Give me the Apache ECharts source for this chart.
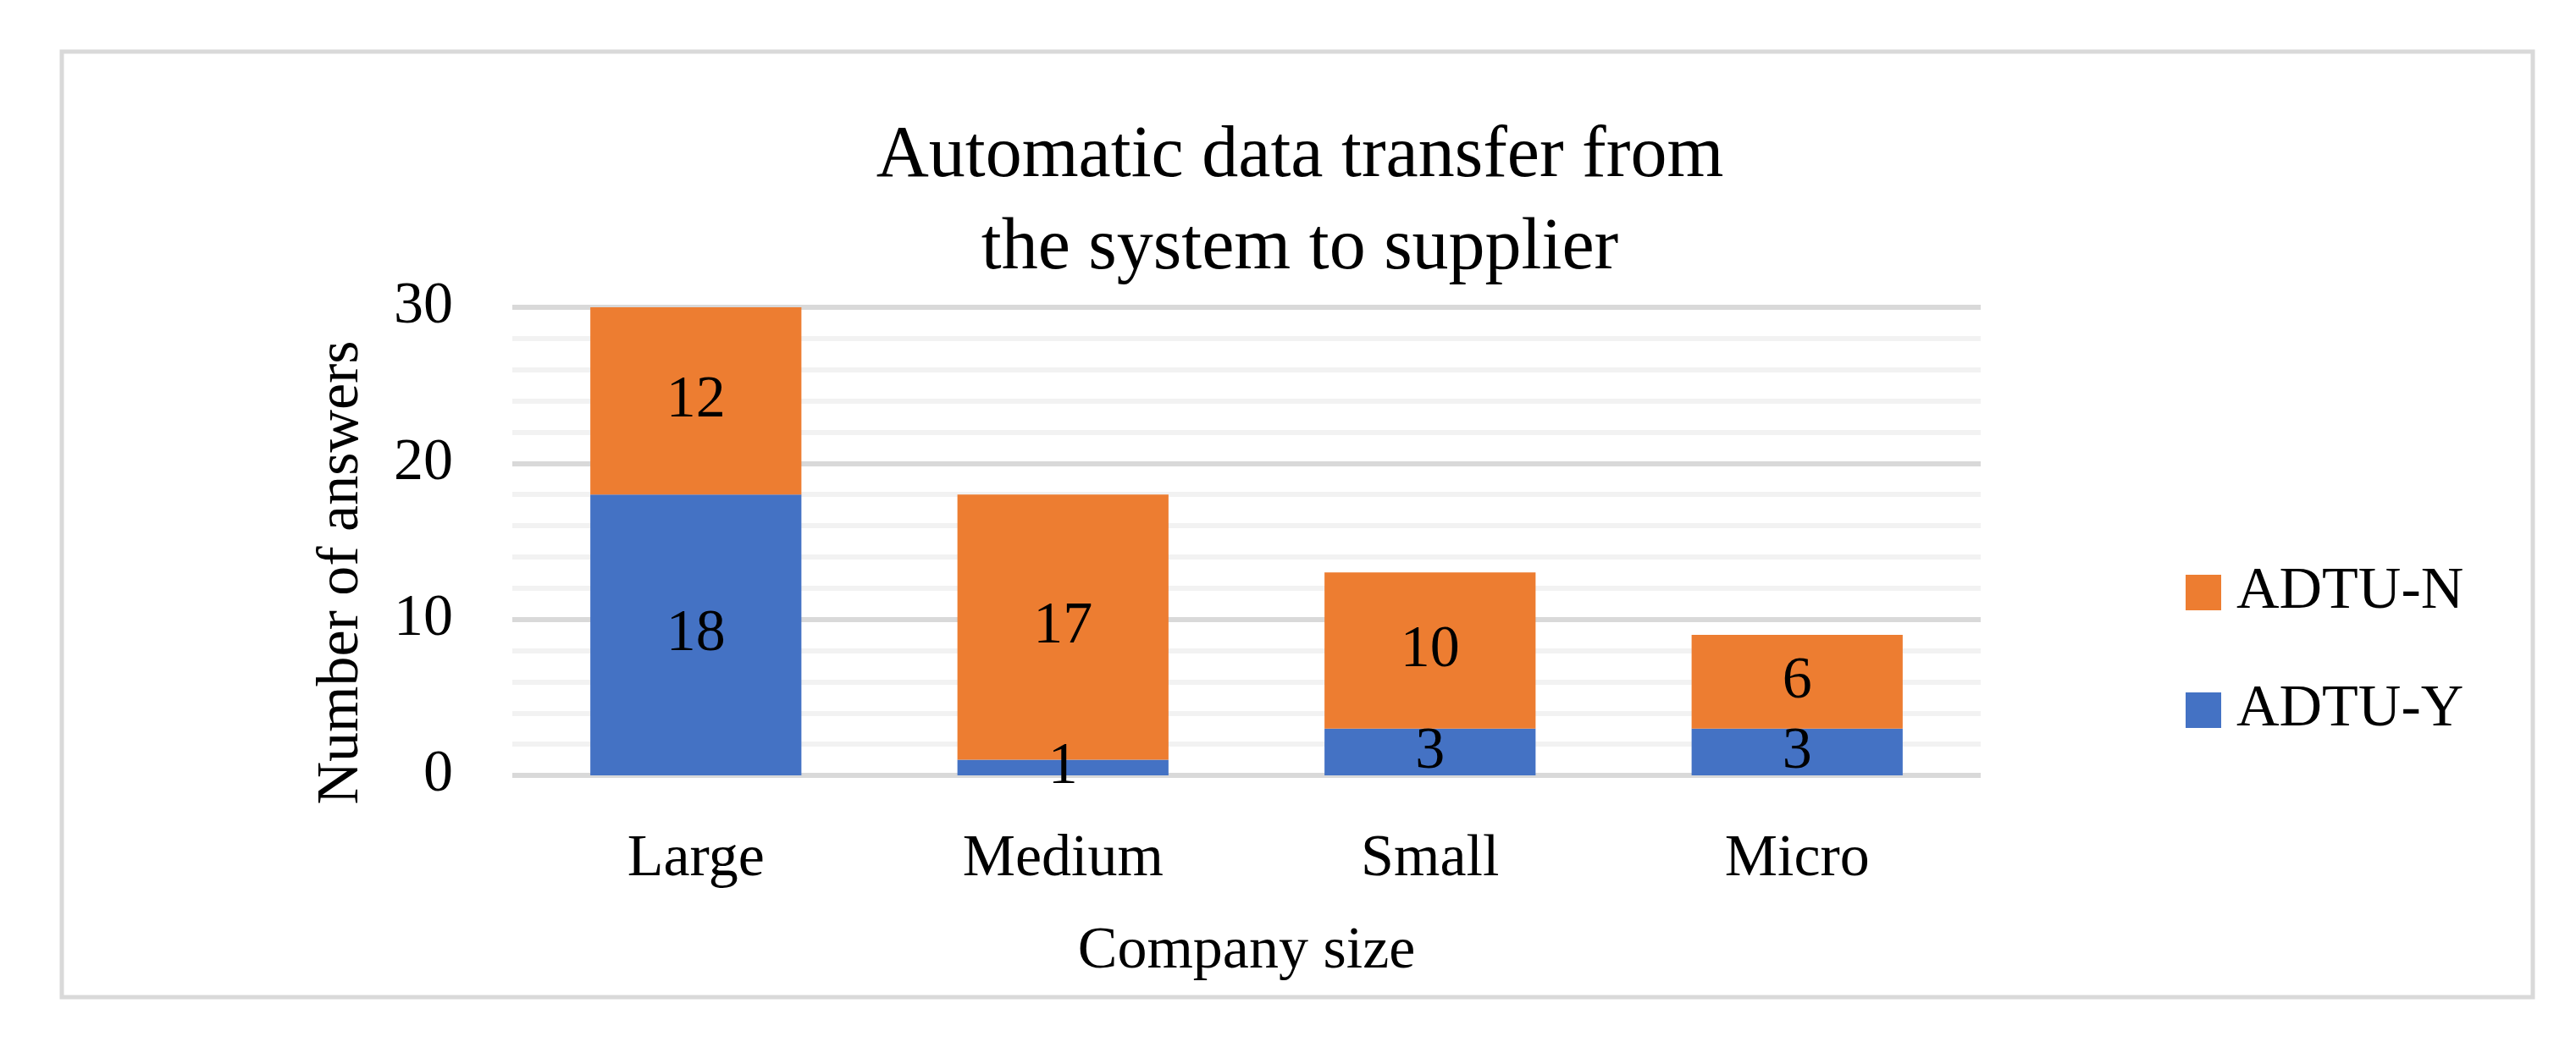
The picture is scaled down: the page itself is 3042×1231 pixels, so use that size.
<!DOCTYPE html>
<html>
<head>
<meta charset="utf-8">
<title>Automatic data transfer</title>
<script src="https://cdn.jsdelivr.net/npm/echarts@6.0.0/dist/echarts.min.js"></script>
<style>
  html, body { margin: 0; padding: 0; background: #fff; }
  #chart { width: 3042px; height: 1231px; }
</style>
</head>
<body>
<div id="chart"></div>
<script>
// data
var categories = ['Large', 'Medium', 'Small', 'Micro'];
var adtuY = [18, 1, 3, 3];
var adtuN = [12, 17, 10, 6];
var yMin = 0, yMax = 30, yStep = 10;

var serif = '"Palatino Linotype", "Book Antiqua", Palatino, "Liberation Serif", serif';
var labelSize = 70;

var chart = echarts.init(document.getElementById('chart'));

var option = {
    backgroundColor: '#fff',
    animation: false,
    title: {
        text: 'Automatic data transfer from\nthe system to supplier',
        left: 1530,
        top: 126,
        textAlign: 'center',
        textStyle: {
            fontFamily: serif,
            fontSize: 86,
            fontWeight: 'normal',
            color: '#000',
            lineHeight: 109
        }
    },
    legend: {
        orient: 'vertical',
        left: 2576,
        top: 660,
        itemWidth: 42,
        itemHeight: 42,
        itemGap: 69,
        icon: 'rect',
        data: ['ADTU-N', 'ADTU-Y'],
        textStyle: {
            fontFamily: serif,
            fontSize: labelSize,
            color: '#000',
            padding: [0, 0, 0, 13]
        }
    },
    grid: {
        left: 605,
        right: 703,
        top: 363,
        bottom: 315
    },
    xAxis: {
        type: 'category',
        data: categories,
        name: 'Company size',
        nameLocation: 'middle',
        nameGap: 174,
        nameTextStyle: { fontFamily: serif, fontSize: labelSize, color: '#000' },
        axisLine: { show: false },
        axisTick: { show: false },
        axisLabel: {
            margin: 65,
            fontFamily: serif,
            fontSize: labelSize,
            color: '#000'
        }
    },
    yAxis: {
        type: 'value',
        min: yMin,
        max: yMax,
        interval: yStep,
        name: 'Number of answers',
        nameLocation: 'middle',
        nameGap: 166,
        nameTextStyle: {
            fontFamily: serif,
            fontSize: labelSize,
            color: '#000',
            padding: [0, 74, 0, 0]
        },
        axisLine: { show: false },
        axisTick: { show: false },
        axisLabel: {
            margin: 70,
            fontFamily: serif,
            fontSize: labelSize,
            color: '#000'
        },
        splitLine: { lineStyle: { color: '#d9d9d9', width: 6 } },
        minorTick: { show: false, splitNumber: 5 },
        minorSplitLine: { show: true, lineStyle: { color: '#f2f2f2', width: 6 } }
    },
    series: [
        {
            name: 'ADTU-Y',
            type: 'bar',
            stack: 'total',
            barCategoryGap: '42.5%',
            itemStyle: { color: '#4472c4' },
            label: {
                show: true,
                position: 'inside',
                fontFamily: serif,
                fontSize: labelSize,
                color: '#000'
            },
            data: adtuY
        },
        {
            name: 'ADTU-N',
            type: 'bar',
            stack: 'total',
            barCategoryGap: '42.5%',
            itemStyle: { color: '#ed7d31' },
            label: {
                show: true,
                position: 'inside',
                fontFamily: serif,
                fontSize: labelSize,
                color: '#000'
            },
            data: adtuN
        }
    ],
    // the light grey frame round the chart
    graphic: [{
        type: 'rect',
        shape: { x: 73, y: 61, width: 2918, height: 1117 },
        style: { fill: null, stroke: '#d9d9d9', lineWidth: 5 },
        silent: true
    }]
};

chart.setOption(option);
</script>
</body>
</html>
